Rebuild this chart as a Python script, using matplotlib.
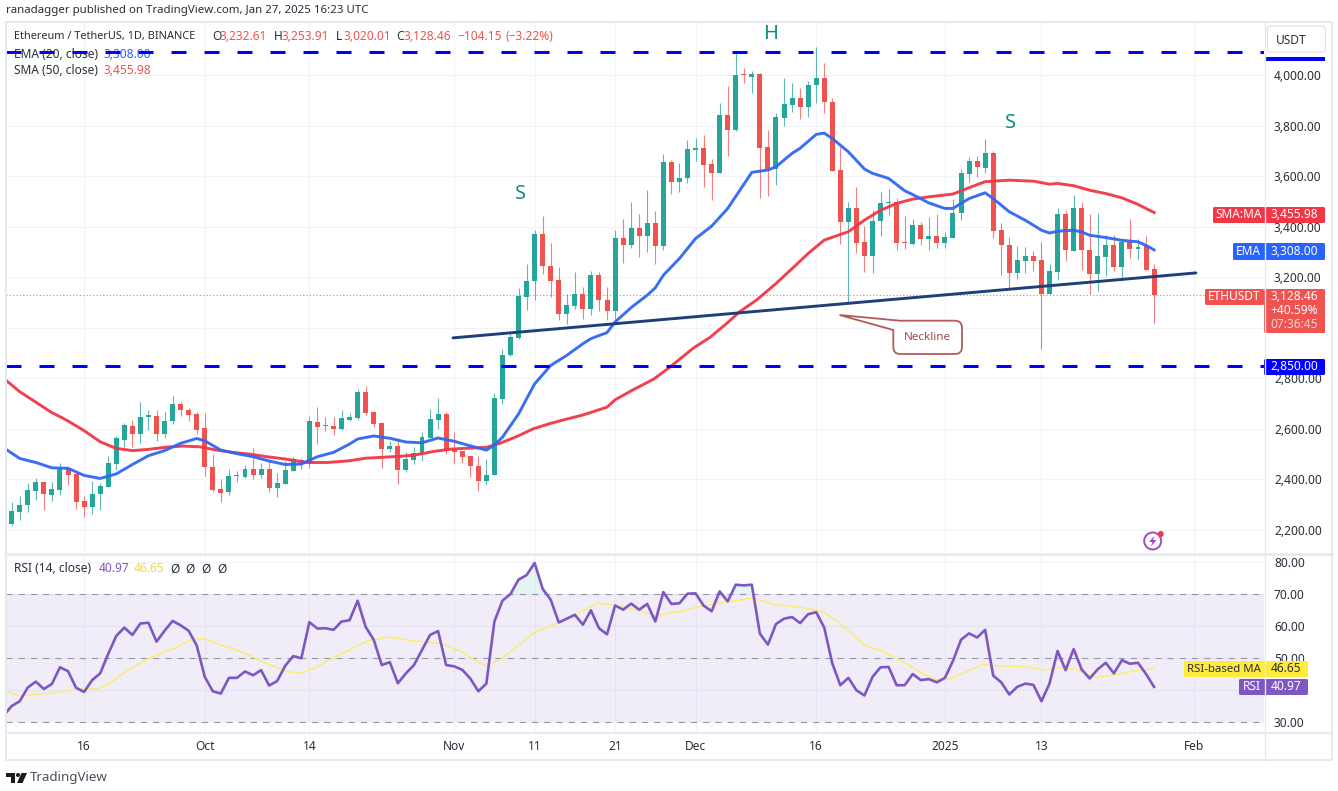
import numpy as np
import matplotlib
matplotlib.use("Agg")
import matplotlib.pyplot as plt
import matplotlib.transforms as mtransforms
from matplotlib.patches import FancyBboxPatch, PathPatch, Circle, Polygon, Rectangle
from matplotlib.path import Path

plt.rcParams['font.family'] = ['Noto Sans', 'DejaVu Sans']

# daily ETH/USDT candles (Sep 7 2024 - Jan 27 2025)
opens = [2224, 2272, 2297, 2355, 2389, 2339, 2359, 2440, 2420, 2314,
         2292, 2341, 2371, 2463, 2558, 2613, 2578, 2647, 2652, 2578,
         2630, 2697, 2676, 2657, 2602, 2450, 2363, 2349, 2412, 2411,
         2442, 2418, 2442, 2367, 2383, 2434, 2478, 2465, 2628, 2611,
         2610, 2600, 2637, 2643, 2745, 2666, 2623, 2520, 2533, 2437,
         2477, 2504, 2563, 2637, 2658, 2518, 2511, 2491, 2455, 2392,
         2417, 2719, 2891, 2959, 3122, 3184, 3372, 3244, 3188, 3056,
         3086, 3133, 3076, 3209, 3109, 3067, 3356, 3327, 3395, 3362,
         3415, 3323, 3654, 3578, 3593, 3704, 3710, 3646, 3612, 3842,
         3782, 4003, 3993, 4005, 3714, 3630, 3831, 3883, 3909, 3872,
         3959, 3989, 3893, 3626, 3417, 3475, 3340, 3282, 3422, 3494,
         3497, 3337, 3333, 3405, 3353, 3365, 3337, 3357, 3453, 3608,
         3659, 3634, 3690, 3385, 3329, 3218, 3266, 3284, 3268, 3132,
         3221, 3451, 3305, 3474, 3308, 3213, 3281, 3328, 3242, 3341,
         3310, 3322, 3232.61]
highs = [2312, 2335, 2384, 2404, 2390, 2388, 2466, 2444, 2424, 2335,
         2393, 2384, 2494, 2573, 2624, 2634, 2705, 2673, 2673, 2668,
         2729, 2705, 2684, 2665, 2661, 2499, 2401, 2442, 2433, 2459,
         2523, 2467, 2477, 2424, 2473, 2490, 2486, 2652, 2688, 2648,
         2646, 2675, 2662, 2758, 2770, 2672, 2626, 2553, 2563, 2507,
         2527, 2586, 2679, 2723, 2666, 2586, 2514, 2494, 2491, 2479,
         2742, 2915, 2977, 3158, 3251, 3387, 3444, 3334, 3241, 3135,
         3221, 3162, 3225, 3219, 3162, 3387, 3429, 3498, 3452, 3547,
         3463, 3686, 3663, 3650, 3743, 3749, 3762, 3667, 3888, 3956,
         4092, 4029, 4017, 4007, 3782, 3848, 3989, 3970, 3950, 3976,
         4112, 4046, 3908, 3716, 3498, 3555, 3403, 3465, 3538, 3549,
         3514, 3444, 3432, 3417, 3439, 3452, 3377, 3511, 3628, 3674,
         3678, 3745, 3700, 3416, 3359, 3324, 3320, 3304, 3340, 3254,
         3474, 3461, 3527, 3496, 3452, 3456, 3366, 3366, 3344, 3429,
         3353, 3363, 3253.91]
lows = [2219, 2239, 2272, 2320, 2280, 2316, 2338, 2378, 2285, 2252,
        2264, 2279, 2370, 2437, 2529, 2527, 2543, 2595, 2554, 2562,
        2618, 2650, 2631, 2578, 2415, 2349, 2312, 2338, 2391, 2407,
        2403, 2404, 2351, 2331, 2382, 2434, 2440, 2444, 2539, 2591,
        2577, 2597, 2631, 2637, 2655, 2609, 2447, 2510, 2381, 2428,
        2463, 2473, 2563, 2600, 2500, 2467, 2467, 2408, 2355, 2381,
        2417, 2699, 2888, 2957, 3069, 3108, 3211, 3121, 3030, 3016,
        3076, 3036, 3051, 3065, 3030, 3036, 3258, 3314, 3281, 3300,
        3254, 3307, 3531, 3538, 3571, 3661, 3555, 3505, 3611, 3681,
        3780, 3970, 3927, 3512, 3521, 3564, 3799, 3855, 3827, 3834,
        3888, 3851, 3620, 3331, 3102, 3294, 3221, 3217, 3362, 3446,
        3306, 3310, 3327, 3329, 3306, 3316, 3316, 3357, 3425, 3575,
        3597, 3611, 3357, 3210, 3157, 3194, 3218, 3226, 2917, 3132,
        3190, 3264, 3305, 3227, 3132, 3145, 3205, 3225, 3184, 3276,
        3271, 3228, 3020.01]
closes = [2275, 2300, 2358, 2389, 2341, 2363, 2441, 2416, 2312, 2292,
          2342, 2376, 2466, 2562, 2614, 2578, 2648, 2653, 2578, 2632,
          2697, 2673, 2653, 2597, 2448, 2359, 2347, 2415, 2416, 2442,
          2418, 2442, 2367, 2387, 2438, 2481, 2465, 2630, 2606, 2615,
          2600, 2642, 2649, 2745, 2663, 2619, 2521, 2533, 2437, 2479,
          2506, 2566, 2639, 2658, 2514, 2508, 2487, 2454, 2393, 2418,
          2721, 2893, 2962, 3126, 3184, 3372, 3244, 3187, 3056, 3089,
          3133, 3075, 3208, 3108, 3067, 3356, 3327, 3395, 3362, 3415,
          3323, 3654, 3578, 3593, 3706, 3710, 3644, 3613, 3840, 3784,
          4000, 3999, 4005, 3712, 3628, 3832, 3885, 3909, 3872, 3960,
          3989, 3892, 3622, 3417, 3475, 3337, 3282, 3424, 3494, 3498,
          3335, 3335, 3405, 3353, 3365, 3337, 3360, 3456, 3611, 3659,
          3636, 3690, 3382, 3326, 3218, 3268, 3284, 3266, 3135, 3223,
          3451, 3307, 3474, 3307, 3213, 3284, 3328, 3242, 3340, 3310,
          3320, 3230, 3128.46]

# moving averages, vertices
ema_days = [-1, 1, 3, 5, 7, 9, 11, 13, 15, 17, 19, 21, 23, 24, 26, 28, 30, 32, 34, 36, 38, 40,
            42, 43, 45, 47, 49, 51, 53, 55, 57, 59, 60, 61, 62, 63, 64, 65, 67, 69, 71, 72, 74, 75,
            77, 79, 80, 81, 83, 85, 87, 89, 92, 94, 95, 97, 98, 100, 101, 102, 104, 106, 107, 109,
            111, 112, 114, 116, 117, 118, 119, 121, 122, 124, 126, 127, 128, 129, 130, 132, 133,
            134, 136, 138, 140, 141, 142]
ema_values = [2525, 2483, 2467, 2446, 2444, 2416, 2404, 2422, 2459, 2494, 2514, 2543, 2562, 2553,
              2516, 2502, 2490, 2473, 2459, 2461, 2490, 2507, 2540, 2560, 2572, 2563, 2548, 2545,
              2564, 2551, 2533, 2516, 2536, 2567, 2613, 2659, 2719, 2778, 2851, 2891, 2937, 2957,
              2981, 3023, 3080, 3129, 3158, 3208, 3274, 3353, 3402, 3472, 3615, 3624, 3637, 3690,
              3710, 3765, 3770, 3749, 3696, 3628, 3611, 3591, 3542, 3527, 3494, 3472, 3472, 3492,
              3511, 3534, 3511, 3459, 3425, 3406, 3386, 3375, 3382, 3386, 3379, 3366, 3357, 3346,
              3340, 3326, 3308]
sma_days = [-1, 1, 2.7, 4.8, 6.8, 8.9, 11, 13, 15, 17, 19.3, 21.3, 23.4, 25.5, 27.5, 29.6, 31.7, 34,
            36.7, 39.2, 42, 44, 48, 50, 52.5, 54.6, 57, 59, 60.7, 62.8, 64.8, 67, 69, 71, 74, 75,
            77.2, 79.8, 81.8, 84.7, 86.8, 88.9, 90.5, 92.6, 95, 97, 99, 101, 104, 106, 108, 110,
            112, 114, 117, 119, 121, 124, 127, 129, 130, 132, 134, 136, 138, 140, 142]
sma_values = [2800, 2747, 2712, 2668, 2635, 2595, 2549, 2523, 2514, 2519, 2528, 2532, 2529, 2516,
              2507, 2500, 2490, 2481, 2467, 2467, 2474, 2484, 2491, 2496, 2511, 2520, 2524, 2527,
              2543, 2570, 2600, 2622, 2639, 2655, 2686, 2715, 2754, 2797, 2844, 2919, 2962, 3018,
              3064, 3110, 3175, 3234, 3294, 3347, 3380, 3426, 3465, 3492, 3509, 3518, 3529, 3554,
              3578, 3584, 3580, 3568, 3571, 3562, 3544, 3531, 3514, 3488, 3456]

# RSI per day, first value sits just left of the pane
rsi_values = [32.0, 35.0, 36.5, 40.8, 42.6, 40.3, 41.9, 47.1, 45.9, 40.7,
              39.4, 43.1, 45.2, 51.3, 56.9, 59.5, 57.2, 60.8, 61.0, 55.1,
              58.5, 61.6, 60.2, 58.5, 53.9, 44.1, 39.6, 38.9, 43.8, 43.8,
              45.8, 44.6, 46.2, 41.4, 42.8, 47.6, 50.6, 49.9, 61.2, 59.2,
              59.3, 58.8, 61.4, 61.8, 67.9, 59.7, 55.7, 47.8, 48.7, 42.1,
              45.2, 47.8, 52.5, 57.2, 58.4, 47.8, 47.4, 46.3, 43.6, 39.6,
              42.0, 61.4, 67.9, 70.0, 74.5, 75.9, 79.7, 71.6, 68.2, 61.1,
              62.3, 63.5, 60.4, 64.9, 59.3, 57.4, 66.4, 65.1, 67.0, 65.1,
              66.9, 61.4, 70.6, 66.9, 67.1, 70.1, 70.2, 66.4, 64.6, 70.8,
              67.7, 72.9, 72.7, 72.9, 57.6, 54.2, 60.6, 62.3, 62.8, 60.9,
              63.7, 64.3, 59.5, 48.3, 41.5, 43.8, 39.9, 38.3, 44.1, 47.1,
              47.2, 41.5, 41.5, 45.0, 43.1, 43.4, 42.4, 43.8, 49.1, 55.7,
              57.7, 56.4, 58.8, 44.5, 42.4, 38.6, 41.0, 42.0, 41.6, 36.5,
              42.0, 52.2, 46.2, 52.8, 46.4, 43.6, 46.5, 48.5, 45.2, 49.3,
              48.2, 48.5, 45.0, 40.97]
rsi_days = [d - 1 for d in range(len(rsi_values))]
rsi_ma_days = [-1, 1, 3, 5, 8, 10.7, 11.8, 14.3, 17.3, 20.4, 22.4, 24, 25.4, 28.5, 31.5, 34, 35.8, 37.6,
               40.1, 42.2, 44.2, 46.7, 50.3, 53.3, 55.9, 57.9, 59, 61, 65, 68, 70, 72.9, 74.6, 78, 80,
               83.6, 85, 88.9, 92, 95, 97.4, 100.7, 102.4, 104.4, 106, 108.5, 111.3, 113.5, 115, 116.5,
               118.5, 120.7, 122.9, 125.7, 128.4, 130, 132.3, 134.8, 137, 139.5, 142]
rsi_ma_values = [40.1, 38.1, 38.7, 39, 40.3, 40.3, 41.5, 46, 50.2, 53.2, 55.9, 56, 54.6, 52, 48.5,
                 45.9, 45.2, 46.8, 50.2, 52.8, 55.3, 56.5, 55.3, 54.6, 52, 48.8, 47.5, 49.9, 58, 61.1,
                 63.5, 67.2, 66.6, 64.8, 63.3, 64.8, 65.8, 67.5, 68.7, 66.6, 66.1, 64.6, 61.9, 57.7, 54,
                 52, 48.1, 44.7, 43.2, 43.4, 45.5, 48, 47.5, 47.3, 46.3, 47, 46.5, 44, 44.7, 45.9, 46.65]

neck_days = [54.85, 147.2]
neck_prices = [2960, 3217]
support = 2850
resistance = 4090
last_close = 3128.46

price_ticks = [2200, 2400, 2600, 2800, 3000, 3200, 3400, 3600, 3800, 4000]
rsi_ticks = [30, 40, 50, 60, 70, 80]
time_ticks = [9, 24, 37, 55, 65, 75, 85, 100, 116, 128, 147]
time_labels = ['16', 'Oct', '14', 'Nov', '11', '21', 'Dec', '16', '2025', '13', 'Feb']

GREEN = '#26a69a'
RED = '#ef5350'
TEXT = '#2a2e39'
GRID = '#f0f3fa'
W, H = 1338, 791
FS = 8.6

fig = plt.figure(figsize=(W / 100, H / 100), dpi=100, facecolor='white')
px = mtransforms.Affine2D().scale(1, -1).translate(0, H)  # image pixels


def add_pane(top, bottom):
    a = fig.add_axes([6 / W, 1 - bottom / H, 1258 / W, (bottom - top) / H], facecolor='white')
    for s in a.spines.values():
        s.set_visible(False)
    a.set_xlim((6 - 11.7) / 8.045, (1264 - 11.7) / 8.045)
    a.set_axisbelow(True)
    a.grid(True, color=GRID, linewidth=0.8)
    a.set_xticks(time_ticks)
    a.yaxis.tick_right()
    a.tick_params(axis='both', length=0, labelsize=FS, labelcolor=TEXT)
    a.tick_params(axis='y', pad=7.2)
    return a


ax = add_pane(22, 552)
ax.set_ylim(2200 - 22 * 1800 / 455, 4000 + 53 * 1800 / 455)
ax.set_yticks(price_ticks)
# 3,000 and 40 are covered by the price tags in the reference
ax.set_yticklabels(['' if p == 3000 else f'{p:,.2f}' for p in price_ticks])
ax.tick_params(axis='x', labelbottom=False)

rsi_ax = add_pane(555, 732)
rsi_ax.set_ylim(30 - 10 / 3.2, 70 + 39 / 3.2)
rsi_ax.set_yticks(rsi_ticks)
rsi_ax.set_yticklabels(['' if p == 40 else f'{p:.2f}' for p in rsi_ticks])
rsi_ax.set_xticklabels(time_labels)
rsi_ax.tick_params(axis='x', pad=6)
rsi_ax.get_xticklabels()[time_labels.index('2025')].set_fontweight('bold')

# candles
days = np.arange(len(closes))
o, h, l, c = map(np.array, (opens, highs, lows, closes))
colors = [GREEN if b >= a else RED for a, b in zip(o, c)]
ax.vlines(days, l, h, colors=colors, linewidth=0.8, alpha=0.75, zorder=2)
ax.bar(days, np.maximum(np.abs(c - o), 3), bottom=np.minimum(o, c), width=0.62, color=colors, zorder=2.1)

ax.axhline(last_close, color=RED, linestyle=(0, (1, 2)), linewidth=0.8, alpha=0.8, zorder=1)
ax.plot(sma_days, sma_values, color='#f23645', linewidth=2.1, alpha=0.95, zorder=3, solid_joinstyle='round')
ax.plot(ema_days, ema_values, color='#2f66f5', linewidth=2.1, alpha=0.95, zorder=3.1, solid_joinstyle='round')
ax.plot(neck_days, neck_prices, color='#1f3f78', linewidth=2.1, zorder=4, solid_capstyle='round')
for level in (resistance, support):
    ax.plot(ax.get_xlim(), [level, level], color='#0000ff', linewidth=2.16, linestyle=(0, (5, 6)),
            dash_capstyle='butt', zorder=5)

# RSI pane
rsi_arr = np.array(rsi_values)
rsi_ax.axhspan(30, 70, color='#7e57c2', alpha=0.1, linewidth=0, zorder=0.6)
for level in (30, 50, 70):
    rsi_ax.axhline(level, color='#9598a1', linewidth=0.8, linestyle=(0, (5.5, 5.5)), zorder=1)
rsi_ax.fill_between(rsi_days, rsi_arr, 70, where=rsi_arr > 70, interpolate=True,
                    color=GREEN, alpha=0.12, linewidth=0, zorder=1.2)
rsi_ax.plot(rsi_ma_days, rsi_ma_values, color='#fdeb72', linewidth=1.1, zorder=2)
rsi_ax.plot(rsi_days, rsi_values, color='#7e57c2', linewidth=1.9, zorder=3)


def label(s, x, y, color=TEXT, size=FS, ha='left', a=ax, zorder=1.5, **kw):
    a.text(x, y, s, transform=px, color=color, fontsize=size, ha=ha, va='center', zorder=zorder, **kw)


# header legends sit under the dashed line
label('Ethereum / TetherUS, 1D, BINANCE', 14, 37, size=7.9)
for s, x in [('O', 212), ('H', 274), ('L', 336), ('C', 396)]:
    label(s, x, 37)
for s, x in [('3,232.61', 220), ('3,253.91', 282), ('3,020.01', 343), ('3,128.46', 404),
             ('−104.15', 457), ('(−3.22%)', 505)]:
    label(s, x, 37, color=RED)
label('EMA (20, close)', 14, 54)
label('3,308.00', 104, 54, color='#2962ff')
label('SMA (50, close)', 14, 71)
label('3,455.98', 104, 71, color=RED)

for s, x, y in [('S', 520, 194), ('H', 771, 34), ('S', 1010, 122.5)]:
    ax.text(x, y, s, transform=px, color='#0b8f80', fontsize=14.5, fontweight='bold',
            ha='center', va='center', zorder=6)

label('RSI (14, close)', 14, 569, a=rsi_ax, zorder=6)
label('40.97', 99, 569, color='#7e57c2', a=rsi_ax, zorder=6)
label('46.65', 134, 569, color='#f7d83a', a=rsi_ax, zorder=6)
for x in (175, 190, 206, 222):
    label('Ø', x, 569, ha='center', a=rsi_ax, zorder=6)

# overlay for frame, tags and drawings, in image pixels
ov = fig.add_axes([0, 0, 1, 1], zorder=10, facecolor='none')
ov.set_xlim(0, W)
ov.set_ylim(H, 0)
ov.axis('off')

ov.add_patch(Rectangle((5.5, 21.5), 1326, 738, fill=False, edgecolor='#e6e8ef', linewidth=1.4))
ov.plot([5.5, 1331.5], [553.5, 553.5], color='#e6e8ef', linewidth=1.8)
ov.plot([5.5, 1331.5], [733, 733], color='#e6e8ef', linewidth=1.4)
ov.plot([1264.5, 1264.5], [21.5, 759.5], color='#e6e8ef', linewidth=1)


def tag(x0, y0, x1, y1, color):
    ov.add_patch(FancyBboxPatch((x0, y0), x1 - x0, y1 - y0, boxstyle='round,pad=0,rounding_size=1.5',
                                facecolor=color, edgecolor='none'))


def otext(s, x, y, color='white', ha='center', size=FS, **kw):
    ov.text(x, y, s, color=color, fontsize=size, ha=ha, va='center', **kw)


tag(1213, 207, 1325, 223, '#f23645')
otext('SMA:MA', 1238.5, 215)
otext('3,455.98', 1294.5, 215)
tag(1233, 243, 1325, 260, '#2962ff')
otext('EMA', 1248.5, 251.5)
otext('3,308.00', 1294.5, 251.5)
tag(1205, 289, 1264, 305, RED)
otext('ETHUSDT', 1234.5, 297)
tag(1264, 289, 1325, 333, RED)
otext('3,128.46', 1294.5, 297)
otext('+40.59%', 1294.5, 311)
otext('07:36:45', 1294.5, 325, color='#fbd5d4')
tag(1264, 359, 1325, 375, '#0000ff')
otext('2,850.00', 1294.5, 367)

tag(1184, 661, 1308, 677, '#ffeb3b')
otext('RSI-based MA', 1224, 669, color=TEXT, size=8.2)
otext('46.65', 1286, 669, color=TEXT)
tag(1239, 679, 1308, 695, '#7e57c2')
otext('RSI', 1251.5, 687)
otext('40.97', 1286, 687)

# currency button, the 4,090 tag shows only as a strip under it
ov.add_patch(Rectangle((1265, 56.5), 60, 4.5, facecolor='#0000ff', edgecolor='none'))
ov.add_patch(FancyBboxPatch((1267.5, 26), 58, 26, boxstyle='round,pad=0,rounding_size=3',
                            facecolor='white', edgecolor='#e0e3eb', linewidth=0.9))
otext('USDT', 1291, 40, color=TEXT, ha='center')

# neckline callout
verts = [(839.5, 315), (900, 320.7), (955, 320.7), (962, 320.7), (962, 328), (962, 347), (962, 354),
         (955, 354), (900, 354), (893.3, 354), (893.3, 347), (893.3, 330), (839.5, 315)]
codes = [Path.MOVETO, Path.LINETO, Path.LINETO, Path.CURVE3, Path.CURVE3, Path.LINETO, Path.CURVE3,
         Path.CURVE3, Path.LINETO, Path.CURVE3, Path.CURVE3, Path.LINETO, Path.CLOSEPOLY]
ov.add_patch(PathPatch(Path(verts, codes), facecolor='white', edgecolor='#b25a5a', linewidth=1.3))
otext('Neckline', 927.5, 337, color='#a84a4a', size=8.4)

# replay icon in the pane
ov.add_patch(Circle((1152.7, 541), 8.5, fill=False, edgecolor='#a347c9', linewidth=1.4))
ov.add_patch(Polygon([(1154.5, 535.5), (1149, 542), (1152.5, 542), (1151, 546.5), (1156.5, 540), (1153, 540)],
                     closed=True, facecolor='#a347c9', edgecolor='none'))
ov.add_patch(Circle((1160.7, 534), 3, facecolor='#f23645', edgecolor='none'))

# header and footer
otext('ranadagger published on TradingView.com, Jan 27, 2025 16:23 UTC', 6, 10, color=TEXT, ha='left', size=8.25)
ov.add_patch(Polygon([(6, 773), (15, 773), (15, 783), (10.5, 783), (10.5, 777), (6, 777)], closed=True,
                     facecolor='#1b1b1f', edgecolor='none'))
ov.add_patch(Circle((18, 775), 2, facecolor='#1b1b1f', edgecolor='none'))
ov.add_patch(Polygon([(21.5, 773), (27, 773), (22.5, 783), (17, 783)], closed=True,
                     facecolor='#1b1b1f', edgecolor='none'))
otext('TradingView', 30, 777.5, color='#4a4e59', ha='left', size=9.6)

plt.savefig('out.png', dpi=100)
